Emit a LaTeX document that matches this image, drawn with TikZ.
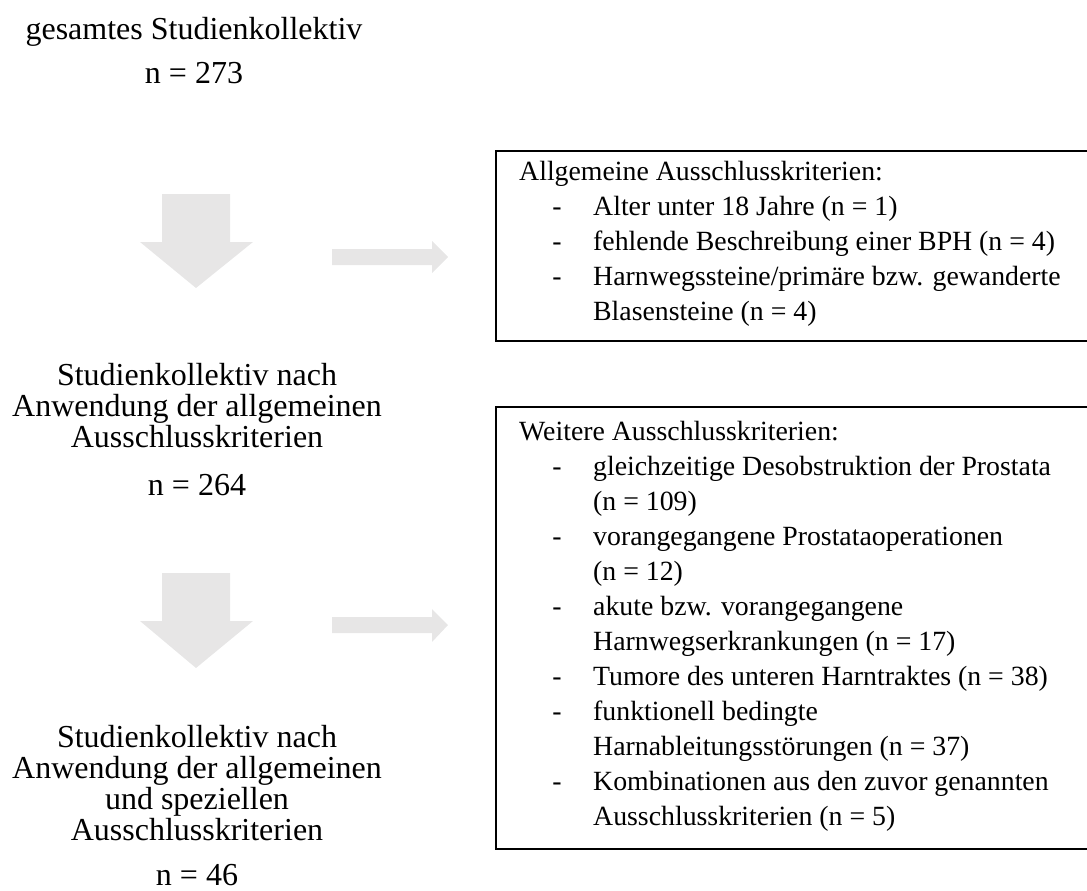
\documentclass[tikz,border=0pt]{standalone}
\usepackage{fontspec}
\setmainfont{Liberation Serif}
\definecolor{arrowgray}{RGB}{231,230,230}
\begin{document}
\begin{tikzpicture}[x=1pt,y=-1pt,
  lefttext/.style={anchor=base,inner sep=0pt,font=\fontsize{32}{34}\selectfont},
  boxtext/.style={anchor=base west,inner sep=0pt,font=\fontsize{27.8}{34.6}\selectfont},
  dashmark/.style={anchor=base,inner sep=0pt,font=\fontsize{27.8}{34.6}\selectfont},
  blockarrow/.style={fill=arrowgray,draw=none},
  framebox/.style={draw=black,line width=1.3pt}]
\useasboundingbox (0,0) rectangle (1087,891);
\clip (0,0) rectangle (1087,891);
% left column texts
\node[lefttext] (s1a) at (194,40) {gesamtes Studienkollektiv};
\node[lefttext] (s1b) at (194,83) {n = 273};
\node[lefttext] (s2a) at (197,385) {Studienkollektiv nach};
\node[lefttext] (s2b) at (197,416) {Anwendung der allgemeinen};
\node[lefttext] (s2c) at (197,447) {Ausschlusskriterien};
\node[lefttext] (s2d) at (197,495) {n = 264};
\node[lefttext] (s3a) at (197,747) {Studienkollektiv nach};
\node[lefttext] (s3b) at (197,778) {Anwendung der allgemeinen};
\node[lefttext] (s3c) at (197,809) {und speziellen};
\node[lefttext] (s3d) at (197,840) {Ausschlusskriterien};
\node[lefttext] (s3e) at (197,885) {n = 46};
% block arrows
\fill[blockarrow] (162,194) -- (230,194) -- (230,242) -- (253,242) -- (196,288) -- (140,242) -- (162,242) -- cycle;
\fill[blockarrow] (332,249) -- (432,249) -- (432,241) -- (448,257) -- (432,273) -- (432,265) -- (332,265) -- cycle;
\fill[blockarrow] (162,573) -- (230,573) -- (230,621) -- (253,621) -- (196,668) -- (140,621) -- (162,621) -- cycle;
\fill[blockarrow] (332,617) -- (432,617) -- (432,609) -- (448,625) -- (432,642) -- (432,633) -- (332,633) -- cycle;
% box 1
\draw[framebox] (496,151) rectangle (1100,341);
\node[boxtext] (b1h) at (519,180) {Allgemeine Ausschlusskriterien:};
\node[dashmark] (b1d1) at (557,215) {-};
\node[boxtext] (b1i1) at (593,215) {Alter unter 18 Jahre (n = 1)};
\node[dashmark] (b1d2) at (557,250) {-};
\node[boxtext] (b1i2) at (593,250) {fehlende Beschreibung einer BPH (n = 4)};
\node[dashmark] (b1d3) at (557,285) {-};
\node[boxtext] (b1i3) at (593,285) {Harnwegssteine/primäre bzw. gewanderte};
\node[boxtext] (b1i3b) at (593,320) {Blasensteine (n = 4)};
% box 2
\draw[framebox] (496,407) rectangle (1100,849);
\node[boxtext] (b2h) at (519,440) {Weitere Ausschlusskriterien:};
\node[dashmark] (b2d1) at (557,475) {-};
\node[boxtext] (b2i1) at (593,475) {gleichzeitige Desobstruktion der Prostata};
\node[boxtext] (b2i1b) at (593,510) {(n = 109)};
\node[dashmark] (b2d2) at (557,545) {-};
\node[boxtext] (b2i2) at (593,545) {vorangegangene Prostataoperationen};
\node[boxtext] (b2i2b) at (593,580) {(n = 12)};
\node[dashmark] (b2d3) at (557,615) {-};
\node[boxtext] (b2i3) at (593,615) {akute bzw. vorangegangene};
\node[boxtext] (b2i3b) at (593,650) {Harnwegserkrankungen (n = 17)};
\node[dashmark] (b2d4) at (557,685) {-};
\node[boxtext] (b2i4) at (593,685) {Tumore des unteren Harntraktes (n = 38)};
\node[dashmark] (b2d5) at (557,720) {-};
\node[boxtext] (b2i5) at (593,720) {funktionell bedingte};
\node[boxtext] (b2i5b) at (593,755) {Harnableitungsstörungen (n = 37)};
\node[dashmark] (b2d6) at (557,790) {-};
\node[boxtext] (b2i6) at (593,790) {Kombinationen aus den zuvor genannten};
\node[boxtext] (b2i6b) at (593,825) {Ausschlusskriterien (n = 5)};
\end{tikzpicture}
\end{document}
